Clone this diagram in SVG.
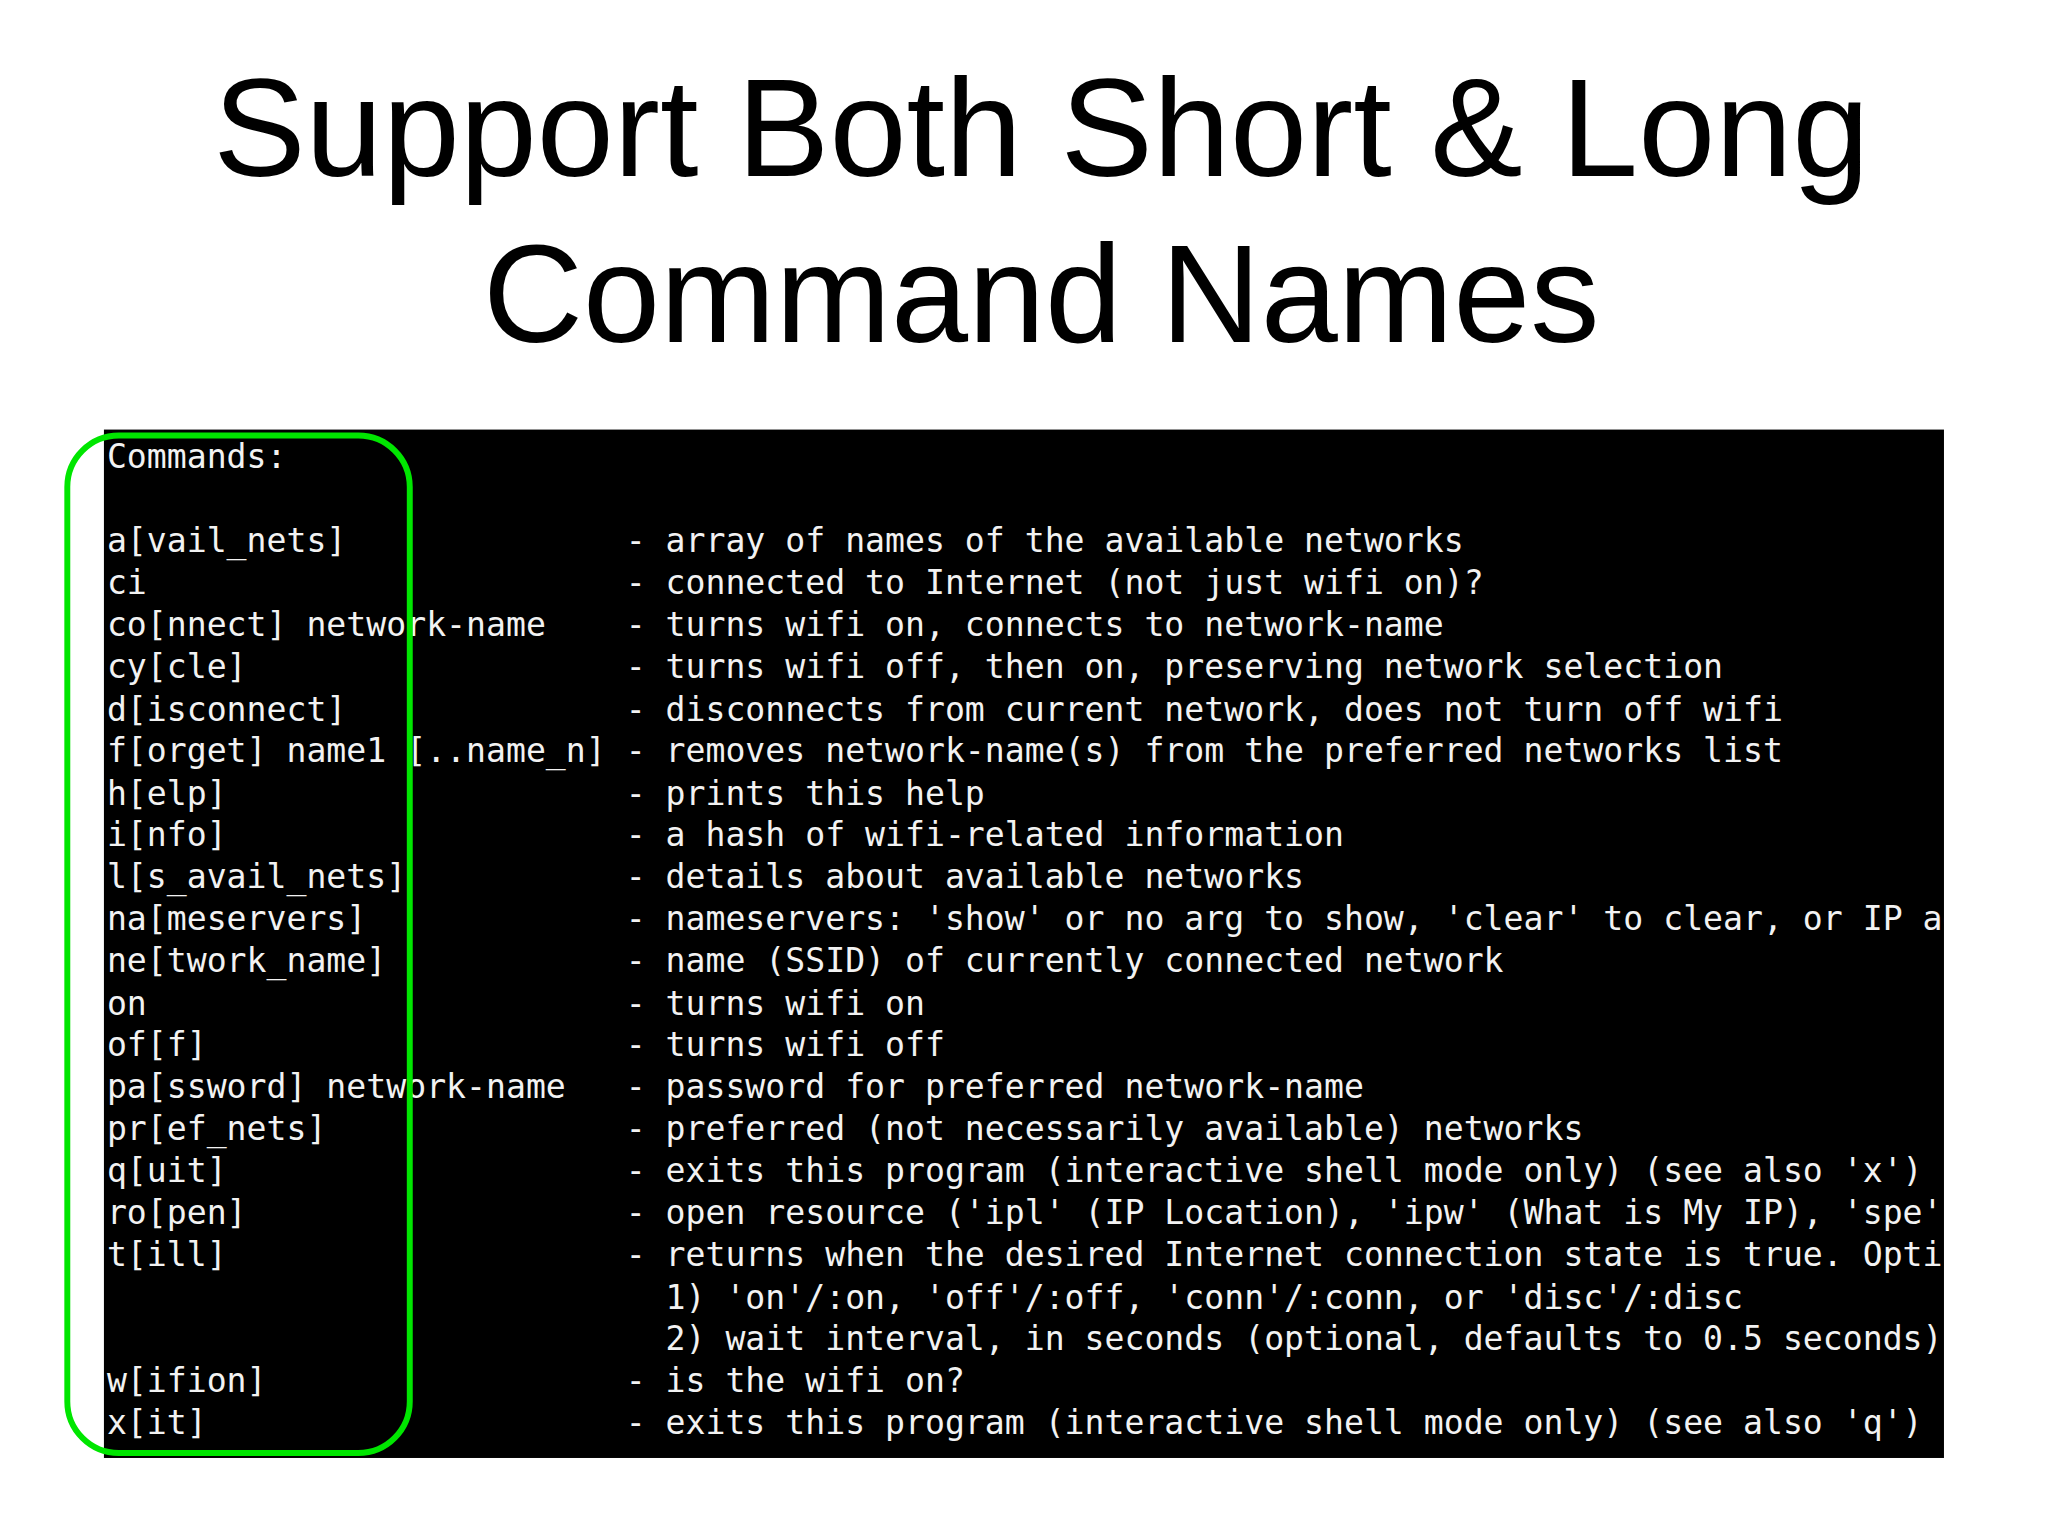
<svg xmlns="http://www.w3.org/2000/svg" width="2048" height="1536" viewBox="0 0 2048 1536">
<style>
.t{font-family:"Liberation Sans",Arial,sans-serif;font-size:140px;fill:#000;text-anchor:middle}
.m{font-family:"DejaVu Sans Mono","Liberation Mono",monospace;font-size:33.5px;fill:#f2f2f2;white-space:pre}
</style>
<defs><clipPath id="c"><rect x="105" y="434" width="1859" height="1039"/></clipPath></defs>
<rect width="2048" height="1536" fill="#fff"/>
<g transform="scale(0.9898)">
<g id="title">
<text class="t" x="1052" y="178">Support Both Short &amp; Long</text>
<text class="t" x="1052" y="346">Command Names</text>
</g>
<g id="terminal">
<rect x="105" y="434" width="1859" height="1039" fill="#000"/>
<g clip-path="url(#c)" xml:space="preserve">
<text class="m" x="108" y="473">Commands:</text>
<text class="m" x="108" y="558">a[vail_nets]              - array of names of the available networks</text>
<text class="m" x="108" y="600">ci                        - connected to Internet (not just wifi on)?</text>
<text class="m" x="108" y="643">co[nnect] network-name    - turns wifi on, connects to network-name</text>
<text class="m" x="108" y="685">cy[cle]                   - turns wifi off, then on, preserving network selection</text>
<text class="m" x="108" y="728">d[isconnect]              - disconnects from current network, does not turn off wifi</text>
<text class="m" x="108" y="770">f[orget] name1 [..name_n] - removes network-name(s) from the preferred networks list</text>
<text class="m" x="108" y="813">h[elp]                    - prints this help</text>
<text class="m" x="108" y="855">i[nfo]                    - a hash of wifi-related information</text>
<text class="m" x="108" y="897">l[s_avail_nets]           - details about available networks</text>
<text class="m" x="108" y="940">na[meservers]             - nameservers: 'show' or no arg to show, 'clear' to clear, or IP ad</text>
<text class="m" x="108" y="982">ne[twork_name]            - name (SSID) of currently connected network</text>
<text class="m" x="108" y="1025">on                        - turns wifi on</text>
<text class="m" x="108" y="1067">of[f]                     - turns wifi off</text>
<text class="m" x="108" y="1109">pa[ssword] network-name   - password for preferred network-name</text>
<text class="m" x="108" y="1152">pr[ef_nets]               - preferred (not necessarily available) networks</text>
<text class="m" x="108" y="1194">q[uit]                    - exits this program (interactive shell mode only) (see also 'x')</text>
<text class="m" x="108" y="1237">ro[pen]                   - open resource ('ipl' (IP Location), 'ipw' (What is My IP), 'spe'</text>
<text class="m" x="108" y="1279">t[ill]                    - returns when the desired Internet connection state is true. Optio</text>
<text class="m" x="108" y="1322">                            1) 'on'/:on, 'off'/:off, 'conn'/:conn, or 'disc'/:disc</text>
<text class="m" x="108" y="1364">                            2) wait interval, in seconds (optional, defaults to 0.5 seconds)</text>
<text class="m" x="108" y="1406">w[ifion]                  - is the wifi on?</text>
<text class="m" x="108" y="1449">x[it]                     - exits this program (interactive shell mode only) (see also 'q')</text>
</g>
</g>
<g id="highlight">
<rect x="68" y="440" width="346" height="1028" rx="52" fill="none" stroke="#00e600" stroke-width="6"/>
</g>
</g>
</svg>
